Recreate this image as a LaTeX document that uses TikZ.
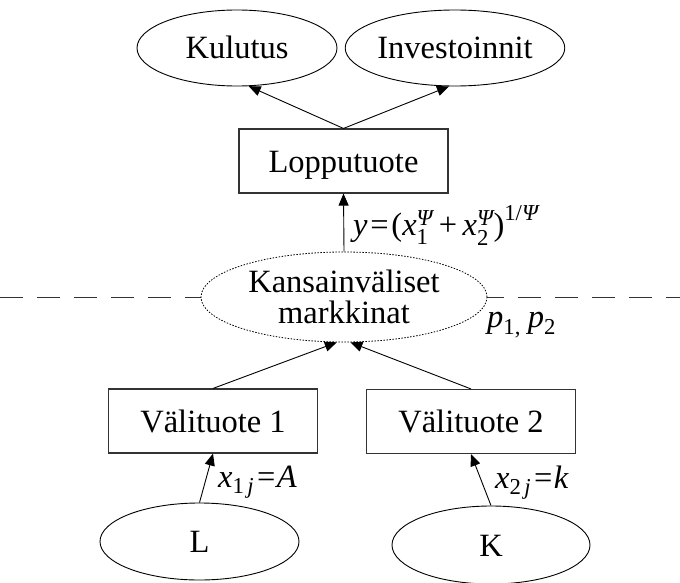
\documentclass[tikz,border=0pt]{standalone}
\usepackage{fontspec}
\usepackage{amsmath}
\setmainfont{Liberation Serif}
\usetikzlibrary{arrows.meta,shapes.geometric}
\newcommand\ti[1]{\text{\rmfamily\itshape #1}}
\newcommand\tr[1]{\text{\rmfamily\upshape #1}}
\begin{document}
\begin{tikzpicture}[x=1pt,y=-1pt,
  every node/.style={font=\fontsize{32.5}{31}\selectfont},
  box/.style={draw=black!80, line width=1.1pt, minimum width=209pt, minimum height=64pt, inner sep=0pt, text height=24pt, text depth=2pt},
  oval/.style={ellipse, draw, line width=0.9pt, inner sep=0pt, minimum width=200pt, minimum height=76pt, text height=24pt, text depth=2pt},
  arr/.style={-{Triangle[length=12pt,width=10pt]}, line width=0.9pt},
  lbl/.style={anchor=base west, inner sep=0pt}]
\useasboundingbox (0,0) rectangle (680,583);
% dashed separator
\coordinate (dl) at (0,297);
\coordinate (dr) at (680,297);
\draw[line width=1pt, dash pattern=on 23pt off 14pt, black!80] (dl) -- (dr);
% nodes
\node[oval] (kul) at (237,48) {Kulutus};
\node[oval] (inv) at (455,48) {Investoinnit};
\node[box] (lop) at (343.5,161) {Lopputuote};
\node[ellipse, draw, fill=white, line width=0.8pt, dash pattern=on 1.5pt off 1.5pt, inner sep=0pt,
      minimum width=286pt, minimum height=90pt, align=center] (kv) at (344,297) {Kansainväliset\\markkinat};
\node[box] (v1) at (213,421) {Välituote 1};
\node[box] (v2) at (471,421.5) {Välituote 2};
\node[oval, minimum width=199pt, minimum height=77pt] (L) at (199.5,541.5) {L};
\node[oval, minimum width=198pt, minimum height=78pt] (K) at (491,545) {K};
% labels
\node[lbl] (eq) at (353,235) {$\ti{y}\mkern2mu\tr{=}\mkern2mu\tr{(}\ti{x}^{\ti{Ψ}}_{\tr{1}}\mathbin{\tr{+}}\ti{x}^{\ti{Ψ}}_{\tr{2}}\tr{)}^{\tr{1/}\ti{Ψ}}$};
\node[lbl] (pp) at (487,327) {$\ti{p}_{\tr{1,}}\;\ti{p}_{\tr{2}}$};
\node[lbl] (x1) at (218,487) {$\ti{x}_{\tr{1}\,\ti{j}}\mkern2mu\tr{=}\mkern1mu\ti{A}$};
\node[lbl] (x2) at (495,488) {$\ti{x}_{\tr{2}\,\ti{j}}\mkern2mu\tr{=}\mkern1mu\ti{k}$};
% connectors
\draw[arr] (lop.north) -- (kul.-73);
\draw[arr] (lop.north) -- (inv.-99);
\draw[arr] (kv.north) -- (lop.south);
\draw[arr] (v1.north) -- (kv.-99);
\draw[arr] (v2.north) -- (kv.-82);
\draw[arr] (L.north) -- (v1.south);
\draw[arr] (K.north) -- (v2.south);
\end{tikzpicture}
\end{document}
